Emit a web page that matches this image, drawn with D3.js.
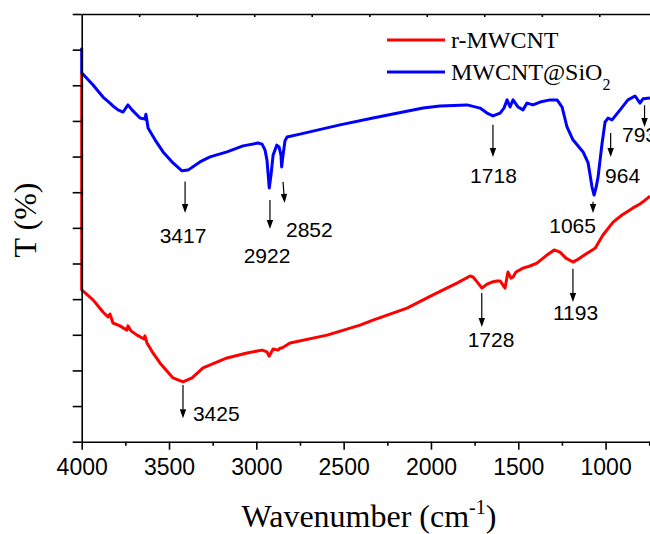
<!DOCTYPE html>
<html><head><meta charset="utf-8">
<script src="https://cdn.jsdelivr.net/npm/d3@7/dist/d3.min.js"></script>
<style>body{margin:0;background:#fff}</style>
</head><body>
<svg id="chart" width="650" height="534"></svg>
<script>
// ---------------- data ----------------
const seriesNames = ["r-MWCNT", "MWCNT@SiO"];
const seriesColors = ["#ff0000", "#0000ff"];

// [wavenumber (cm-1), T (arb. %)]
const rMWCNT = [
  [4000,103.5],[4000,42.6],[3935,39.8],[3878,36.4],[3849,35.0],[3838,35.8],[3821,33.3],[3781,32.5],
  [3741,31.3],[3735,32.5],[3718,31.1],[3683,29.9],[3643,28.8],[3638,29.7],[3626,27.7],[3592,24.9],
  [3552,22.1],[3477,17.9],[3420,16.8],[3368,17.9],[3305,20.7],[3168,23.5],[3053,24.9],[2967,25.7],
  [2939,25.2],[2927,24.0],[2904,26.0],[2876,25.7],[2862,26.3],[2853,26.3],[2807,27.7],[2595,29.9],
  [2406,32.7],[2332,34.1],[2137,37.5],[1988,41.2],[1851,44.5],[1776,46.5],[1759,46.2],[1730,44.5],
  [1708,43.1],[1679,44.2],[1650,44.8],[1622,45.1],[1604,45.1],[1576,43.1],[1559,47.6],[1542,45.9],
  [1530,46.2],[1513,47.6],[1473,48.7],[1433,49.3],[1393,50.1],[1335,52.4],[1295,53.8],[1261,53.2],
  [1227,51.5],[1187,50.4],[1164,51.0],[1106,52.9],[1060,54.3],[1015,58.0],[957,61.6],[906,63.6],
  [843,65.6],[803,66.7],[786,67.3],[746,68.9]
];
const mwcntSiO2 = [
  [4000,110.5],[4000,103.5],[3935,100.1],[3878,96.7],[3838,95.0],[3821,94.2],[3792,93.1],[3763,92.5],
  [3735,94.5],[3712,93.1],[3666,90.8],[3638,90.5],[3632,91.9],[3620,88.0],[3580,84.7],[3534,81.3],
  [3477,78.2],[3426,76.0],[3391,76.2],[3323,78.5],[3265,79.9],[3168,81.3],[3076,83.0],[2990,83.8],
  [2967,83.5],[2950,81.8],[2939,79.0],[2926,71.2],[2916,74.8],[2904,80.4],[2883,83.2],[2870,82.7],
  [2859,80.4],[2855,77.1],[2847,80.4],[2836,84.4],[2824,85.5],[2750,86.3],[2521,88.9],[2332,90.8],
  [2045,93.6],[1948,94.2],[1793,94.5],[1719,93.6],[1679,92.2],[1645,91.4],[1604,92.2],[1582,93.6],
  [1564,95.9],[1547,93.9],[1530,95.9],[1501,93.9],[1473,93.1],[1450,95.0],[1416,94.5],[1375,95.3],
  [1318,95.9],[1278,95.9],[1249,93.9],[1221,88.3],[1187,84.7],[1129,81.3],[1100,78.2],[1078,71.5],
  [1066,69.2],[1055,71.2],[1043,74.3],[1020,83.8],[1003,89.7],[986,90.8],[963,90.3],[917,93.1],
  [872,95.9],[831,97.0],[803,95.0],[786,96.2],[746,96.4]
];

const xMajorTicks = [4000, 3500, 3000, 2500, 2000, 1500, 1000];
const xMinorTicks = [3750, 3250, 2750, 2250, 1750, 1250, 750];
const xTopTicks = [3671, 3341, 3012, 2683, 2353, 2024, 1695, 1365, 1036];
const yTicks = [0, 10, 20, 30, 40, 50, 60, 70, 80, 90, 100, 110, 120];

// peak annotations: label, arrow x (top, tip), arrow T (top, tip), label x, label T (baseline), anchor
const peakLabels   = ["3417","2922","2852","1718","1065","964","793","3425","1728","1193"];
const arrowXTop    = [3408, 2922, 2847, 1645, 1072, 971, 777, 3420, 1709, 1187];
const arrowXTip    = [3408, 2922, 2838, 1645, 1072, 971, 777, 3420, 1709, 1187];
const arrowTTop    = [73.0, 67.8, 72.9, 88.9, 67.3, 86.6, 94.4, 15.9, 41.7, 48.5];
const arrowTTip    = [64.2, 59.7, 67.0, 79.9, 64.2, 79.9, 88.3, 6.6, 32.2, 39.2];
const labelX       = [3420, 2939, 2830, 1642, 1189, 1003, 906, 3363, 1656, 1172];
const labelT       = [55.8, 50.1, 57.4, 72.6, 58.6, 72.6, 84.1, 5.8, 26.6, 34.1];
const labelAnchor  = ["middle","middle","start","middle","middle","start","start","start","middle","middle"];

// ---------------- drawing ----------------
const svg = d3.select("#chart");
const x = d3.scaleLinear().domain([4000, 740]).range([81.7, 651]);
const y = d3.scaleLinear().domain([0, 120]).range([441.7, 14]);

const sans = "'Liberation Sans', Arial, sans-serif";
const serif = "'Liberation Serif', 'Times New Roman', serif";

// clip for curves
svg.append("clipPath").attr("id","plotclip").append("rect")
  .attr("x", x(4000) - 2).attr("y", y(120)).attr("width", 650).attr("height", y(0) - y(120));

const line = d3.line().x(d => x(d[0])).y(d => y(d[1]));
const g = svg.append("g").attr("clip-path", "url(#plotclip)");
g.append("path").datum(rMWCNT).attr("d", line).attr("fill","none")
  .attr("stroke", seriesColors[0]).attr("stroke-width", 3).attr("stroke-linejoin","round");
g.append("path").datum(mwcntSiO2).attr("d", line).attr("fill","none")
  .attr("stroke", seriesColors[1]).attr("stroke-width", 3).attr("stroke-linejoin","round");

// axes
function styleAxis(sel){
  sel.selectAll(".domain").attr("stroke","#000").attr("stroke-width",1.6);
  sel.selectAll(".tick line").attr("stroke","#000").attr("stroke-width",1.6);
}
const xb = svg.append("g").attr("transform", `translate(0,${y(0)})`)
  .call(d3.axisBottom(x).tickValues(xMajorTicks).tickFormat(d3.format("d")).tickSizeInner(8).tickSizeOuter(0).tickPadding(9));
styleAxis(xb);
xb.selectAll("text").attr("font-family", sans).attr("font-size", 23).attr("fill","#000");
const xm = svg.append("g").attr("transform", `translate(0,${y(0)})`)
  .call(d3.axisBottom(x).tickValues(xMinorTicks).tickFormat("").tickSizeInner(4).tickSizeOuter(0));
styleAxis(xm); xm.select(".domain").remove();

const xt = svg.append("g").attr("transform", `translate(0,${y(120)})`)
  .call(d3.axisTop(x).tickValues(xTopTicks).tickFormat("").tickSizeInner(-3).tickSizeOuter(0));
styleAxis(xt);

const yl = svg.append("g").attr("transform", `translate(${x(4000)},0)`)
  .call(d3.axisLeft(y).tickValues(yTicks).tickFormat("").tickSizeInner(9).tickSizeOuter(0));
styleAxis(yl);

// annotations
const ann = svg.append("g");
peakLabels.forEach((lab, i) => {
  const x1 = x(arrowXTop[i]), x2 = x(arrowXTip[i]);
  const y1 = y(arrowTTop[i]), y2 = y(arrowTTip[i]);
  const ang = Math.atan2(y2 - y1, x2 - x1);
  const hl = 9, hw = 3.2;
  const bx = x2 - hl * Math.cos(ang), by = y2 - hl * Math.sin(ang);
  ann.append("line").attr("x1", x1).attr("y1", y1).attr("x2", bx).attr("y2", by)
    .attr("stroke","#000").attr("stroke-width",1.2);
  const px = -Math.sin(ang), py = Math.cos(ang);
  ann.append("path")
    .attr("d", `M${x2},${y2}L${bx + hw*px},${by + hw*py}L${bx - hw*px},${by - hw*py}Z`)
    .attr("fill","#000");
  ann.append("text").attr("x", x(labelX[i])).attr("y", y(labelT[i]))
    .attr("text-anchor", labelAnchor[i]).attr("font-family", sans).attr("font-size", 21)
    .attr("fill","#000").text(lab);
});

// legend
const leg = svg.append("g");
[0,1].forEach(i => {
  const ly = 40 + i * 32;
  leg.append("line").attr("x1", 387).attr("x2", 445).attr("y1", ly).attr("y2", ly)
    .attr("stroke", seriesColors[i]).attr("stroke-width", 3);
  const t = leg.append("text").attr("x", 451).attr("y", ly + 8)
    .attr("font-family", serif).attr("font-size", 24).attr("fill","#000").text(seriesNames[i]);
  if (i === 1) t.append("tspan").attr("font-size", 16).attr("dy", 10).text("2");
});

// axis titles
const xt2 = svg.append("text").attr("x", 369).attr("y", 527).attr("text-anchor","middle")
  .attr("font-family", serif).attr("font-size", 32).attr("fill","#000");
xt2.append("tspan").text("Wavenumber (cm");
xt2.append("tspan").attr("font-size", 20).attr("dy", -13).text("-1");
xt2.append("tspan").attr("dy", 13).text(")");

svg.append("text").attr("transform", "translate(36,220) rotate(-90)")
  .attr("text-anchor","middle").attr("font-family", serif).attr("font-size", 32)
  .attr("fill","#000").text("T (%)");
</script>
</body></html>
